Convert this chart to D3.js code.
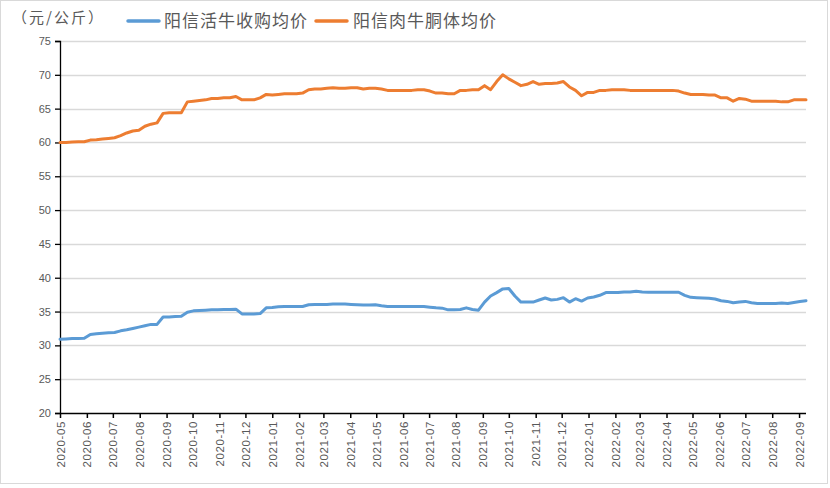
<!DOCTYPE html>
<html><head><meta charset="utf-8">
<script src="https://cdn.jsdelivr.net/npm/d3@7"></script>
<style>
html,body{margin:0;padding:0;background:#fff;}
svg{display:block;}
text{font-family:"Liberation Sans","DejaVu Sans",sans-serif;}
.cjk{font-family:"Noto Sans CJK SC","Noto Sans",sans-serif;}
</style></head>
<body>
<svg id="chart" width="830" height="488"></svg>
<script>
// ---- data ----
const startDate = "2020-05-01";           // first weekly observation
const seriesNames = ["阳信活牛收购均价", "阳信肉牛胴体均价"];
const liveCattle = [
30.9,30.95,31.0,31.0,31.05,31.6,31.7,31.8,31.85,31.9,
32.15,32.3,32.5,32.7,32.9,33.1,33.1,34.2,34.2,34.25,
34.3,34.9,35.1,35.15,35.2,35.25,35.25,35.3,35.3,35.35,
34.65,34.65,34.65,34.7,35.55,35.6,35.7,35.75,35.75,35.75,
35.75,36.0,36.05,36.05,36.05,36.1,36.1,36.1,36.05,36.0,
35.95,35.95,36.0,35.85,35.75,35.75,35.75,35.75,35.75,35.75,
35.75,35.65,35.55,35.5,35.25,35.25,35.3,35.55,35.3,35.2,
36.4,37.3,37.8,38.35,38.4,37.3,36.4,36.4,36.4,36.7,
37.0,36.7,36.8,37.05,36.4,36.9,36.55,37.0,37.15,37.4,
37.8,37.8,37.8,37.9,37.9,38.0,37.9,37.85,37.85,37.85,
37.85,37.85,37.85,37.4,37.1,37.05,37.0,36.95,36.85,36.6,
36.5,36.3,36.4,36.5,36.3,36.2,36.2,36.2,36.2,36.25,
36.2,36.35,36.5,36.6];
const carcass = [
60.0,60.0,60.05,60.1,60.1,60.35,60.4,60.5,60.6,60.7,
61.0,61.4,61.7,61.8,62.4,62.7,62.9,64.3,64.4,64.4,
64.4,66.0,66.1,66.2,66.3,66.5,66.5,66.6,66.6,66.8,
66.3,66.3,66.3,66.6,67.1,67.0,67.1,67.2,67.2,67.2,
67.3,67.8,67.9,67.9,68.0,68.1,68.0,68.0,68.1,68.1,
67.9,68.0,68.0,67.9,67.7,67.7,67.7,67.7,67.7,67.8,
67.8,67.6,67.3,67.3,67.2,67.2,67.7,67.7,67.8,67.8,
68.4,67.8,69.0,70.0,69.4,68.9,68.4,68.6,69.0,68.6,
68.7,68.7,68.8,69.0,68.2,67.7,66.9,67.4,67.4,67.7,
67.7,67.8,67.8,67.8,67.7,67.7,67.7,67.7,67.7,67.7,
67.7,67.7,67.6,67.3,67.1,67.1,67.1,67.0,67.0,66.6,
66.6,66.1,66.5,66.4,66.1,66.1,66.1,66.1,66.1,66.0,
66.0,66.3,66.3,66.3];
const monthLabels = ["2020-05","2020-06","2020-07","2020-08","2020-09","2020-10","2020-11","2020-12",
"2021-01","2021-02","2021-03","2021-04","2021-05","2021-06","2021-07","2021-08","2021-09","2021-10",
"2021-11","2021-12","2022-01","2022-02","2022-03","2022-04","2022-05","2022-06","2022-07","2022-08","2022-09"];
const yTicks = [20,25,30,35,40,45,50,55,60,65,70,75];
const unitLabel = "（元/公斤）";

// ---- build ----
(function () {
const parseDay = d3.utcParse("%Y-%m-%d");
const parseMonth = d3.utcParse("%Y-%m");
const t0 = parseDay(startDate);
const dates = liveCattle.map((_, i) => d3.utcDay.offset(t0, i * 7));

const svg = d3.select("#chart");
const W = 830, H = 488;
const mL = 60, mR = 806, mT = 41, mB = 413;

svg.append("rect").attr("x",0.5).attr("y",0.5).attr("width",W-3).attr("height",H-5)
  .attr("fill","#fff").attr("stroke","#d9d9d9").attr("stroke-width",1);

const x = d3.scaleUtc().domain([t0, dates[dates.length-1]]).range([mL, mR]);
const y = d3.scaleLinear().domain([20, 75]).range([mB, mT]);

// grid
svg.append("g").selectAll("line").data(yTicks.filter(v => v > 20)).join("line")
  .attr("x1", mL).attr("x2", mR)
  .attr("y1", d => Math.round(y(d)) + 0.5).attr("y2", d => Math.round(y(d)) + 0.5)
  .attr("stroke", "#d9d9d9").attr("stroke-width", 1.5);

// y axis
const yAxis = d3.axisLeft(y).tickValues(yTicks).tickSize(5).tickPadding(4);
const gy = svg.append("g").attr("transform", `translate(${mL},0)`).call(yAxis);
gy.select(".domain").attr("stroke", "#000").attr("stroke-width", 1.3);
gy.selectAll(".tick line").attr("stroke", "#000").attr("stroke-width", 1.3);
gy.selectAll(".tick text").attr("fill", "#595959").style("font-size", "11px")
  .style("font-family", "'Liberation Sans','DejaVu Sans',sans-serif");

// x axis
const tickDates = monthLabels.map(s => parseMonth(s));
const xAxis = d3.axisBottom(x).tickValues(tickDates).tickSize(5)
  .tickFormat((d, i) => monthLabels[i]);
const gx = svg.append("g").attr("transform", `translate(0,${mB})`).call(xAxis);
gx.select(".domain").attr("stroke", "#000").attr("stroke-width", 1.3).attr("d", `M${mL},0.5H${mR}`);
gx.selectAll(".tick line").attr("stroke", "#000").attr("stroke-width", 1.5);
gx.selectAll(".tick text")
  .attr("fill", "#595959").style("font-size", "11.5px")
  .style("font-family", "'Liberation Sans','DejaVu Sans',sans-serif")
  .style("letter-spacing", "0.6px")
  .attr("text-anchor", "end").attr("dy", null).attr("y", 0)
  .attr("dominant-baseline", "central")
  .attr("transform", "translate(0,8) rotate(-90)");

// lines
const line = d3.line().x((d, i) => x(dates[i])).y(d => y(d));
const colors = ["#5B9BD5", "#ED7D31"];
[liveCattle, carcass].forEach((s, k) => {
  svg.append("path").datum(s).attr("d", line)
    .attr("fill", "none").attr("stroke", colors[k]).attr("stroke-width", 3)
    .attr("stroke-linejoin", "round").attr("stroke-linecap", "round");
});

// unit label
svg.append("text").attr("class", "cjk").attr("x", 12).attr("y", 23)
  .attr("fill", "#595959").style("font-size", "15px").style("letter-spacing", "2px").text(unitLabel);

// legend
const legendPos = [{lx: 128, tx: 164}, {lx: 316, tx: 353}];
seriesNames.forEach((name, k) => {
  const p = legendPos[k];
  svg.append("line").attr("x1", p.lx).attr("x2", p.lx + 31).attr("y1", 21).attr("y2", 21)
    .attr("stroke", colors[k]).attr("stroke-width", 3.5).attr("stroke-linecap", "round");
  svg.append("text").attr("class", "cjk").attr("x", p.tx).attr("y", 27)
    .attr("fill", "#595959").style("font-size", "17px").style("letter-spacing", "1px").text(name);
});
})();
</script>
</body></html>
